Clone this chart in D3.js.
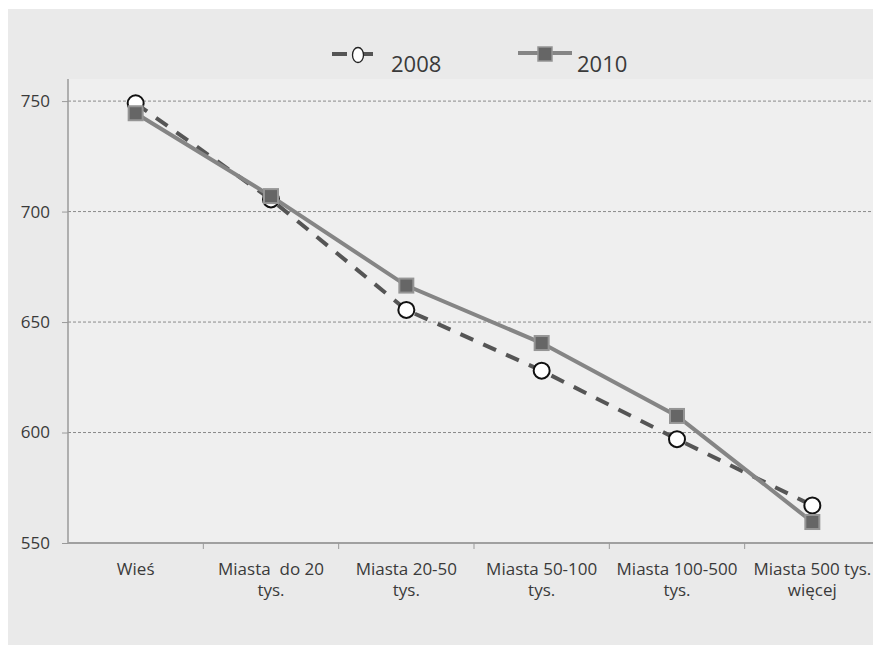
<!DOCTYPE html>
<html>
<head>
<meta charset="utf-8">
<script src="https://cdn.jsdelivr.net/npm/d3@7"></script>
<style>
  html, body { margin: 0; padding: 0; background: #ffffff; }
  svg { display: block; }
  text { font-family: "Open Sans", "Noto Sans", sans-serif; fill: #3a3a3a; white-space: pre; }
</style>
</head>
<body>
<svg id="chart" width="873" height="645"></svg>
<script>
// Categories (settlement size) — each label split into lines
const categories = [
  ["Wieś"],
  ["Miasta  do 20", "tys."],
  ["Miasta 20-50", "tys."],
  ["Miasta 50-100", "tys."],
  ["Miasta 100-500", "tys."],
  ["Miasta 500 tys.", "więcej"]
];
const categoryKeys = categories.map(c => c.join(" "));

// Series values
const values2008 = [749, 705.5, 655.5, 628, 597, 567];
const values2010 = [744.5, 707, 666.5, 640.5, 607.5, 559.5];

const seriesNames = ["2008", "2010"];
const yTicks = [550, 600, 650, 700, 750];

const svg = d3.select("#chart");
const W = 873, H = 645;

// Chart area and plot area backgrounds
svg.append("rect").attr("x", 8).attr("y", 9).attr("width", W - 8).attr("height", H - 9)
  .attr("fill", "#eaeaea");

const plot = { left: 68, top: 79, right: 880, bottom: 543 };
svg.append("rect").attr("x", plot.left).attr("y", plot.top)
  .attr("width", plot.right - plot.left).attr("height", plot.bottom - plot.top)
  .attr("fill", "#efefef");

const x = d3.scaleBand().domain(categoryKeys).range([plot.left, plot.right]).padding(0);
const y = d3.scaleLinear().domain([550, 760]).range([plot.bottom, plot.top]);

// Horizontal dashed gridlines
svg.append("g").selectAll("line").data(yTicks.filter(v => v > 550)).join("line")
  .attr("x1", plot.left).attr("x2", W)
  .attr("y1", d => y(d)).attr("y2", d => y(d))
  .attr("stroke", "#8a8a8a").attr("stroke-width", 1).attr("stroke-dasharray", "3,2");

// Y axis
const yAxis = svg.append("g").attr("transform", `translate(${plot.left},0)`)
  .call(d3.axisLeft(y).tickValues(yTicks).tickSize(6).tickPadding(12).tickFormat(d3.format("d")));
yAxis.select(".domain").attr("stroke", "#9a9a9a").attr("stroke-width", 1.5)
  .attr("d", `M0,${plot.top}V${plot.bottom}`);
yAxis.selectAll(".tick line").attr("stroke", "#9a9a9a");
yAxis.selectAll(".tick text").attr("font-size", 17).attr("fill", "#3a3a3a")
  .attr("font-family", "'Open Sans', sans-serif");

// X axis with ticks between categories
const xAxis = svg.append("g").attr("transform", `translate(0,${plot.bottom})`);
xAxis.append("line").attr("x1", plot.left).attr("x2", W).attr("y1", 0).attr("y2", 0)
  .attr("stroke", "#a0a0a0").attr("stroke-width", 2);
xAxis.selectAll("line.tk").data(categoryKeys.slice(1)).join("line").attr("class", "tk")
  .attr("x1", d => x(d)).attr("x2", d => x(d)).attr("y1", 0).attr("y2", 6)
  .attr("stroke", "#9a9a9a");
const xl = xAxis.selectAll("text.cat").data(categories).join("text").attr("class", "cat")
  .attr("text-anchor", "middle").attr("font-size", 17)
  .attr("transform", (d, i) => `translate(${x(categoryKeys[i]) + x.bandwidth() / 2},32)`);
xl.selectAll("tspan").data(d => d).join("tspan")
  .attr("x", 0).attr("dy", (d, i) => i === 0 ? 0 : 21).text(d => d);

const cx = i => x(categoryKeys[i]) + x.bandwidth() / 2;

// 2008 series: dashed dark line with open circles
const line = d3.line().x((d, i) => cx(i)).y(d => y(d));
svg.append("path").datum(values2008).attr("d", line)
  .attr("fill", "none").attr("stroke", "#555555").attr("stroke-width", 4)
  .attr("stroke-dasharray", "14,11");
svg.append("g").selectAll("circle").data(values2008).join("circle")
  .attr("cx", (d, i) => cx(i)).attr("cy", d => y(d)).attr("r", 8)
  .attr("fill", "#ffffff").attr("stroke", "#111111").attr("stroke-width", 2);

// 2010 series: solid gray line with squares
svg.append("path").datum(values2010).attr("d", line)
  .attr("fill", "none").attr("stroke", "#858585").attr("stroke-width", 4);
svg.append("g").selectAll("rect").data(values2010).join("rect")
  .attr("x", (d, i) => cx(i) - 7).attr("y", d => y(d) - 7)
  .attr("width", 14).attr("height", 14)
  .attr("fill", "#666666").attr("stroke", "#959595").attr("stroke-width", 2);

// Legend
const lg = svg.append("g");
lg.append("line").attr("x1", 332).attr("x2", 347).attr("y1", 54).attr("y2", 54)
  .attr("stroke", "#555555").attr("stroke-width", 4);
lg.append("line").attr("x1", 362).attr("x2", 373).attr("y1", 54).attr("y2", 54)
  .attr("stroke", "#555555").attr("stroke-width", 4);
lg.append("ellipse").attr("cx", 358).attr("cy", 55).attr("rx", 5.5).attr("ry", 7.5)
  .attr("fill", "#ffffff").attr("stroke", "#222222").attr("stroke-width", 1.3);
lg.append("text").attr("x", 391).attr("y", 72).attr("font-size", 22).text(seriesNames[0]);

lg.append("line").attr("x1", 518).attr("x2", 572).attr("y1", 53).attr("y2", 53)
  .attr("stroke", "#858585").attr("stroke-width", 4);
lg.append("rect").attr("x", 538).attr("y", 47).attr("width", 14).attr("height", 14)
  .attr("fill", "#666666").attr("stroke", "#959595").attr("stroke-width", 1.5);
lg.append("text").attr("x", 577).attr("y", 72).attr("font-size", 22).text(seriesNames[1]);
</script>
</body>
</html>
